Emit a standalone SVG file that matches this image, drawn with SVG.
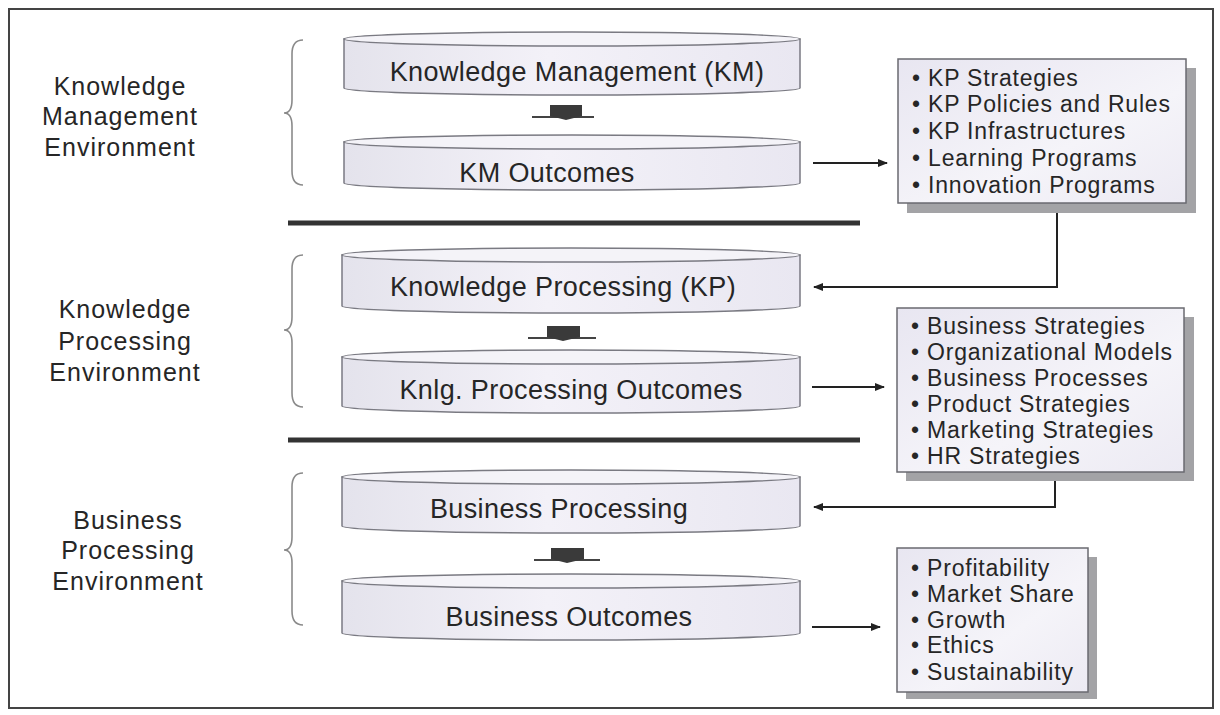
<svg xmlns="http://www.w3.org/2000/svg" width="1220" height="715" viewBox="0 0 1220 715">
<defs>
<linearGradient id="cyl" x1="0" y1="0" x2="1" y2="0">
<stop offset="0" stop-color="#e4e3ec"/>
<stop offset="0.45" stop-color="#f3f1f8"/>
<stop offset="1" stop-color="#e9e7f1"/>
</linearGradient>
<linearGradient id="boxg" x1="0" y1="0" x2="1" y2="1">
<stop offset="0" stop-color="#e8e6f1"/>
<stop offset="0.6" stop-color="#f5f4f9"/>
<stop offset="1" stop-color="#eceaf3"/>
</linearGradient>
<marker id="ah" viewBox="0 0 10 10" refX="9" refY="5" markerWidth="5" markerHeight="5" orient="auto-start-reverse" markerUnits="strokeWidth">
<path d="M0,1 L10,5 L0,9 Z" fill="#222"/>
</marker>
<style>
.cylb{fill:url(#cyl);stroke:#7a7a82;stroke-width:1.5}
.cylt{fill:#f4f3f8;stroke:#7a7a82;stroke-width:1.5}
.ct{font-family:"Liberation Sans",Arial,sans-serif;font-size:27px;letter-spacing:0.4px;fill:#262626;text-anchor:middle}
.lt{font-family:"Liberation Sans",Arial,sans-serif;font-size:25px;letter-spacing:1px;fill:#262626;text-anchor:middle}
.bt{font-family:"Liberation Sans",Arial,sans-serif;font-size:23px;letter-spacing:0.8px;fill:#262626}
.box{fill:url(#boxg);stroke:#6a6a70;stroke-width:1.5}
.shd{fill:#a3a3a6}
.brace{fill:none;stroke:#8a8a8a;stroke-width:1.6}
.sep{stroke:#333;stroke-width:5}
.con{fill:none;stroke:#222;stroke-width:2}
.mini{fill:#3a3a3a}
.minil{stroke:#444;stroke-width:2}
</style>
</defs>
<rect x="9" y="9" width="1204" height="699" fill="#fff" stroke="#444" stroke-width="2"/>

<g id="labels">
<g id="lbl-km">
<text class="lt" x="120" y="95">Knowledge</text>
<text class="lt" x="120" y="125">Management</text>
<text class="lt" x="120" y="156">Environment</text>
</g>
<g id="lbl-kp">
<text class="lt" x="125" y="318">Knowledge</text>
<text class="lt" x="125" y="350">Processing</text>
<text class="lt" x="125" y="381">Environment</text>
</g>
<g id="lbl-bp">
<text class="lt" x="128" y="529">Business</text>
<text class="lt" x="128" y="559">Processing</text>
<text class="lt" x="128" y="590">Environment</text>
</g>
</g>

<g id="braces">
<path class="brace" d="M303,40 Q292,40 292,54 L292,100 Q292,113 284,113 Q292,113 292,126 L292,171 Q292,185 303,185"/>
<path class="brace" d="M303,255 Q292,255 292,269 L292,317 Q292,330 284,330 Q292,330 292,343 L292,393 Q292,407 303,407"/>
<path class="brace" d="M303,473 Q292,473 292,487 L292,537 Q292,550 284,550 Q292,550 292,563 L292,611 Q292,625 303,625"/>
</g>

<g id="separators">
<line class="sep" x1="288" y1="223" x2="860" y2="223"/>
<line class="sep" x1="288" y1="440" x2="860" y2="440"/>
</g>

<g id="km">
<path class="cylb" d="M344,39 L344,88 A228,7 0 0 0 800,88 L800,39 Z"/>
<ellipse class="cylt" cx="572" cy="39" rx="228" ry="7"/>
<text class="ct" x="577" y="81">Knowledge Management (KM)</text>
</g>
<g id="km-outcomes">
<path class="cylb" d="M344,142 L344,183 A228,7 0 0 0 800,183 L800,142 Z"/>
<ellipse class="cylt" cx="572" cy="142" rx="228" ry="7"/>
<text class="ct" x="547" y="182">KM Outcomes</text>
</g>
<g id="kp">
<path class="cylb" d="M342,255 L342,306 A229,7 0 0 0 800,306 L800,255 Z"/>
<ellipse class="cylt" cx="571" cy="255" rx="229" ry="7"/>
<text class="ct" x="563" y="296">Knowledge Processing (KP)</text>
</g>
<g id="knlg-outcomes">
<path class="cylb" d="M342,357 L342,406 A229,7 0 0 0 800,406 L800,357 Z"/>
<ellipse class="cylt" cx="571" cy="357" rx="229" ry="7"/>
<text class="ct" x="571" y="399">Knlg. Processing Outcomes</text>
</g>
<g id="bp">
<path class="cylb" d="M342,477 L342,526 A229,7 0 0 0 800,526 L800,477 Z"/>
<ellipse class="cylt" cx="571" cy="477" rx="229" ry="7"/>
<text class="ct" x="559" y="518">Business Processing</text>
</g>
<g id="bo">
<path class="cylb" d="M342,581 L342,633 A229,7 0 0 0 800,633 L800,581 Z"/>
<ellipse class="cylt" cx="571" cy="581" rx="229" ry="7"/>
<text class="ct" x="569" y="626">Business Outcomes</text>
</g>

<g id="box-kp">
<rect class="shd" x="907" y="68" width="289" height="145"/>
<rect class="box" x="898" y="59" width="288" height="144"/>
<text class="bt" x="912" y="86">• KP Strategies</text>
<text class="bt" x="912" y="112">• KP Policies and Rules</text>
<text class="bt" x="912" y="139">• KP Infrastructures</text>
<text class="bt" x="912" y="166">• Learning Programs</text>
<text class="bt" x="912" y="193">• Innovation Programs</text>
</g>
<g id="box-business">
<rect class="shd" x="906" y="317" width="288" height="164"/>
<rect class="box" x="897" y="308" width="287" height="164"/>
<text class="bt" x="911" y="334">• Business Strategies</text>
<text class="bt" x="911" y="360">• Organizational Models</text>
<text class="bt" x="911" y="386">• Business Processes</text>
<text class="bt" x="911" y="412" fill="#555">• Product Strategies</text>
<text class="bt" x="911" y="438">• Marketing Strategies</text>
<text class="bt" x="911" y="464">• HR Strategies</text>
</g>
<g id="box-outcomes">
<rect class="shd" x="906" y="557" width="191" height="142"/>
<rect class="box" x="897" y="548" width="191" height="144"/>
<text class="bt" x="911" y="576">• Profitability</text>
<text class="bt" x="911" y="602">• Market Share</text>
<text class="bt" x="911" y="628">• Growth</text>
<text class="bt" x="911" y="653">• Ethics</text>
<text class="bt" x="911" y="680">• Sustainability</text>
</g>

<g id="connectors">
<line class="minil" x1="532" y1="117" x2="594" y2="117"/>
<path class="mini" d="M550,105 H582 V116 L566,120 L550,116 Z"/>
<line class="minil" x1="528" y1="338" x2="596" y2="338"/>
<path class="mini" d="M547,326 H580 V337 L563,341 L547,337 Z"/>
<line class="minil" x1="534" y1="560" x2="600" y2="560"/>
<path class="mini" d="M551,548 H584 V559 L567,563 L551,559 Z"/>
<path class="con" d="M813,163 H887" marker-end="url(#ah)"/>
<path class="con" d="M1057,213 V287 H814" marker-end="url(#ah)"/>
<path class="con" d="M812,387 H884" marker-end="url(#ah)"/>
<path class="con" d="M1055,481 V507 H814" marker-end="url(#ah)"/>
<path class="con" d="M812,627 H880" marker-end="url(#ah)"/>
</g>
</svg>
